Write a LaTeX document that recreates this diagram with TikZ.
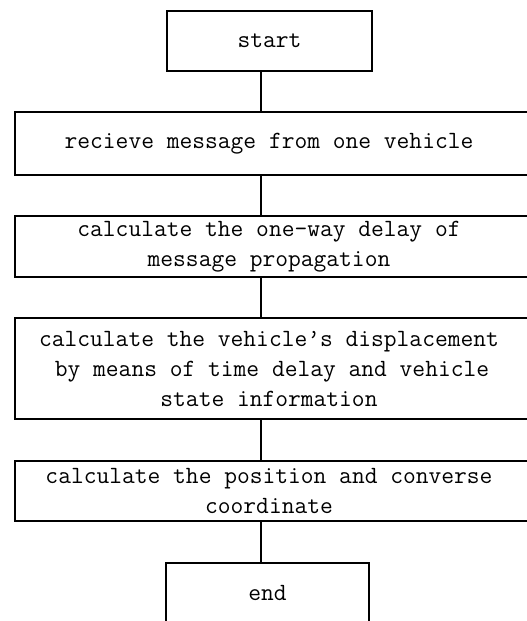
\documentclass[tikz,border=0pt]{standalone}
\begin{document}
\begin{tikzpicture}[x=1pt,y=-1pt,
  box/.style={draw, line width=1.8pt, inner sep=0pt, align=center,
    font=\fontsize{24.8}{30}\selectfont\ttfamily},
  wide/.style={box, minimum width=514pt},
  link/.style={line width=1.8pt}]
\useasboundingbox (0,0) rectangle (527,621);
\clip (0,0) rectangle (527,621);
\coordinate (spine) at (261,0);
\node[box, minimum width=205pt, minimum height=60pt] (start) at (269.5,41) {start};
\node[wide, minimum height=63pt] (recv) at (272,143.5) {recieve message from one vehicle\hspace*{6pt}};
\node[wide, minimum height=61pt] (delay) at (272,246.5) {calculate the one-way delay of\hspace*{6pt}\\message propagation\hspace*{6pt}};
\node[wide, minimum height=101pt] (disp) at (272,368.5) {calculate the vehicle’s displacement\hspace*{6pt}\\by means of time delay and vehicle\hspace*{6pt}\\state information\hspace*{6pt}};
\node[wide, minimum height=60pt] (pos) at (272,491) {calculate the position and converse\hspace*{6pt}\\coordinate\hspace*{6pt}};
\node[box, minimum width=203pt, minimum height=60pt] (end) at (267.5,593) {end};
\draw[link] (start.south -| spine) -- (recv.north -| spine);
\draw[link] (recv.south -| spine) -- (delay.north -| spine);
\draw[link] (delay.south -| spine) -- (disp.north -| spine);
\draw[link] (disp.south -| spine) -- (pos.north -| spine);
\draw[link] (pos.south -| spine) -- (end.north -| spine);
\end{tikzpicture}
\end{document}
